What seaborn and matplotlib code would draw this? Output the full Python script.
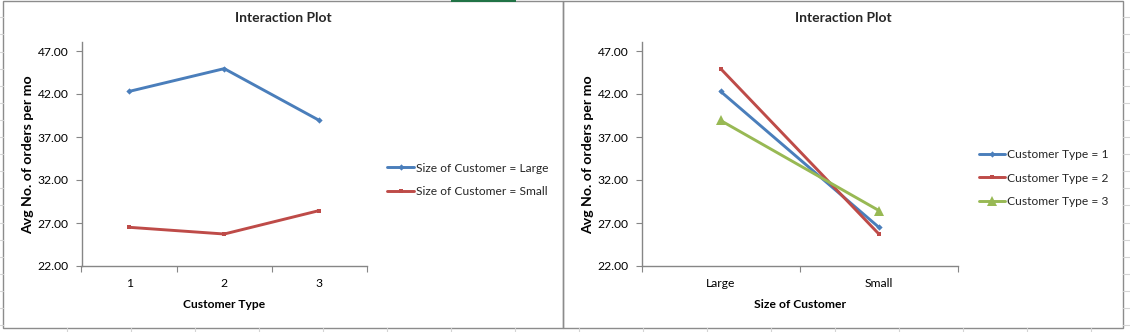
import numpy as np
import pandas as pd
import matplotlib
matplotlib.use("Agg")
import matplotlib.pyplot as plt
import seaborn as sns
from matplotlib.ticker import FormatStrFormatter, FixedLocator
from matplotlib.lines import Line2D
from matplotlib.patches import Rectangle

# ---- data ----
customer_types = ["1", "2", "3"]
sizes = ["Large", "Small"]
large_values = [42.30, 44.95, 38.92]
small_values = [26.50, 25.72, 28.45]
y_ticks = [22, 27, 32, 37, 42, 47]
title_text = "Interaction Plot"
y_label = "Avg No. of orders per mo"
left_legend = ["Size of Customer = Large", "Size of Customer = Small"]
right_legend = ["Customer Type = 1", "Customer Type = 2", "Customer Type = 3"]

BLUE, RED, GREEN = "#4A7EBB", "#BE4B48", "#98B954"
GREY = "#868686"

rows = []
for ct, v in zip(customer_types, large_values):
    rows.append({"Customer Type": ct, "Size": "Large", "val": v})
for ct, v in zip(customer_types, small_values):
    rows.append({"Customer Type": ct, "Size": "Small", "val": v})
df = pd.DataFrame(rows)

sns.set_theme(style="white")
plt.rcParams["font.family"] = ["Lato", "DejaVu Sans"]

W, H = 1130, 332
fig = plt.figure(figsize=(W / 100, H / 100), dpi=100)
fig.patch.set_facecolor("white")
renderer = fig.canvas.get_renderer()

def fx(px):
    return px / W

def fy(py):
    return 1 - py / H

def fit(s, target_px, weight="normal"):
    t = fig.text(0, 0, s, fontsize=10, fontweight=weight)
    w = t.get_window_extent(renderer).width
    t.remove()
    return 10 * target_px / w

TICK_FS = (fit("47.00", 31) + fit("Large", 29.5) + fit("Small", 28)) / 3
LEG_FS = (fit("Size of Customer = Large", 133.5) + fit("Customer Type = 1", 101)) / 2
YLAB_FS = fit(y_label, 159, "bold")
TITLE_FS = fit(title_text, 97, "bold")
XLAB1_FS = fit("Customer Type", 82.5, "bold")
XLAB2_FS = fit("Size of Customer", 92, "bold")

# spreadsheet grid lines around the charts
cell = "#D4D4D4"
for k in range(20):
    y = 17.3 + k * 17.1
    if y < 328:
        fig.add_artist(Line2D([fx(0), fx(3)], [fy(y), fy(y)], color=cell, lw=0.8))
        fig.add_artist(Line2D([fx(1123), fx(1130)], [fy(y), fy(y)], color=cell, lw=0.8))
for k in range(20):
    x = 66.7 + k * 64.02
    if x < 1130:
        fig.add_artist(Line2D([fx(x), fx(x)], [fy(328), fy(332)], color=cell, lw=0.8))

# chart borders
for x0, x1 in [(3, 563), (563, 1123)]:
    fig.add_artist(Rectangle((fx(x0), fy(328)), fx(x1 - x0), (328 - 0.5) / H,
                             fill=False, edgecolor="#8C8C8C", lw=1.0))
fig.add_artist(Rectangle((fx(451), fy(1.5)), fx(65), 1.5 / H, color="#217346", lw=0))

def style_axes(ax, ncat):
    ax.set_ylim(22, 48)
    ax.set_xlim(-0.5, ncat - 0.5)
    ax.yaxis.set_major_locator(FixedLocator(y_ticks))
    ax.yaxis.set_major_formatter(FormatStrFormatter("%.2f"))
    for s in ["top", "right"]:
        ax.spines[s].set_visible(False)
    for s in ["left", "bottom"]:
        ax.spines[s].set_color(GREY)
        ax.spines[s].set_linewidth(1.0)
    ax.set_xticks(np.arange(-0.5, ncat, 1.0), minor=True)
    ax.tick_params(axis="x", which="minor", length=4, width=0.8, color=GREY, direction="out", bottom=True)
    ax.tick_params(axis="x", which="major", length=0, pad=8.5, labelsize=TICK_FS, labelcolor="#000000")
    ax.tick_params(axis="y", which="major", length=4, width=0.8, color=GREY, direction="out",
                   left=True, pad=5.3, labelsize=TICK_FS, labelcolor="#000000")
    ax.grid(False)
    ax.set_facecolor("white")

def labels(ax, xlabel, xfs, ax_left_px, ax_w_px, ylab_center_px):
    ax.set_xlabel(xlabel, fontsize=xfs, fontweight="bold", color="black", va="center")
    ax.xaxis.set_label_coords(0.5, (266 - 304) / (266 - 42.4))
    ax.set_ylabel(y_label, fontsize=YLAB_FS, fontweight="bold", color="black", va="center")
    ax.yaxis.set_label_coords((ylab_center_px - ax_left_px) / ax_w_px, 0.5)

# ---- left chart ----
ax1 = fig.add_axes([fx(81.5), 1 - 266 / H, fx(285.5), (266 - 42.4) / H])
sns.lineplot(data=df, x="Customer Type", y="val", hue="Size", style="Size",
             hue_order=sizes, style_order=sizes,
             palette={"Large": BLUE, "Small": RED},
             markers={"Large": "D", "Small": "s"}, dashes=False,
             markersize=3.2, markeredgewidth=0, linewidth=2.1, ax=ax1, legend=False)
style_axes(ax1, 3)
labels(ax1, "Customer Type", XLAB1_FS, 81.5, 285.5, 28)
fig.text(fx(283), fy(18), title_text, ha="center", va="center", fontsize=TITLE_FS, fontweight="bold")

h1 = [Line2D([], [], color=BLUE, lw=2.1, marker="D", markersize=3.2, markeredgewidth=0),
      Line2D([], [], color=RED, lw=2.1, marker="s", markersize=3.2, markeredgewidth=0)]
fig.legend(h1, left_legend,
           loc="upper left", bbox_to_anchor=(fx(387.4), fy(162.5)), frameon=False,
           fontsize=LEG_FS, handlelength=2.2, handletextpad=0.15, labelspacing=1.05,
           borderpad=0, borderaxespad=0)

# ---- right chart ----
df2 = df.rename(columns={"Customer Type": "ct"})
ax2 = fig.add_axes([fx(641.5), 1 - 266 / H, fx(316.5), (266 - 42.4) / H])
sns.lineplot(data=df2, x="Size", y="val", hue="ct", style="ct",
             hue_order=customer_types, style_order=customer_types,
             palette={"1": BLUE, "2": RED, "3": GREEN},
             markers={"1": "D", "2": "s", "3": "^"}, dashes=False,
             markersize=3.2, markeredgewidth=0, linewidth=2.1, ax=ax2, legend=False)
for ln in ax2.get_lines():
    if ln.get_marker() == "^":
        ln.set_markersize(7)
style_axes(ax2, 2)
labels(ax2, "Size of Customer", XLAB2_FS, 641.5, 316.5, 588)
fig.text(fx(843), fy(18), title_text, ha="center", va="center", fontsize=TITLE_FS, fontweight="bold")

h2 = [Line2D([], [], color=BLUE, lw=2.1, marker="D", markersize=3.2, markeredgewidth=0),
      Line2D([], [], color=RED, lw=2.1, marker="s", markersize=3.2, markeredgewidth=0),
      Line2D([], [], color=GREEN, lw=2.1, marker="^", markersize=7, markeredgewidth=0)]
fig.legend(h2, right_legend,
           loc="upper left", bbox_to_anchor=(fx(978.7), fy(149)), frameon=False,
           fontsize=LEG_FS, handlelength=2.2, handletextpad=0.15, labelspacing=1.05,
           borderpad=0, borderaxespad=0)

fig.savefig("out.png", dpi=100, facecolor="white")
